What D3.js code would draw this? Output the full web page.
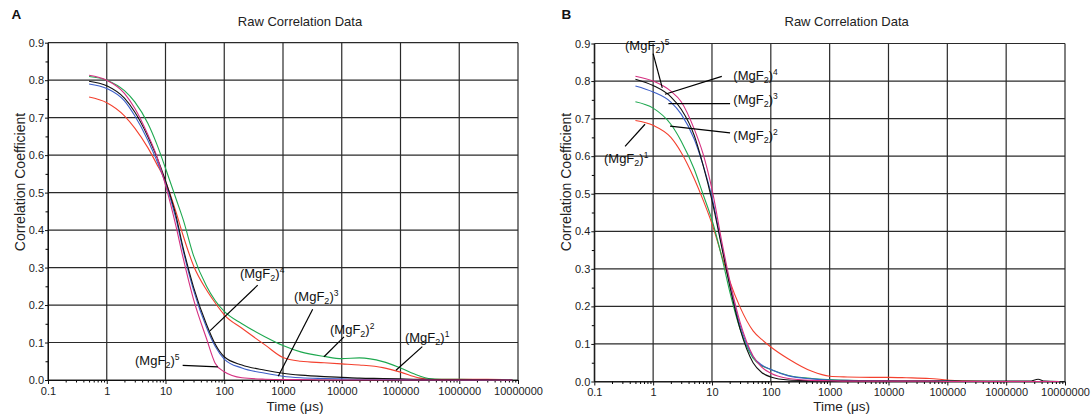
<!DOCTYPE html>
<html>
<head>
<meta charset="utf-8">
<script src="https://cdn.jsdelivr.net/npm/d3@7"></script>
<style>
    body { margin: 0; background: #fff; }
    svg { display: block; font-family: "Liberation Sans", Arial, sans-serif; }
</style>
</head>
<body>
<div id="wrapper"></div>
<script>
// tick values and labels
const xTickValues = [0.1, 1, 10, 100, 1000, 1e4, 1e5, 1e6, 1e7]
const xTickLabels = ['0.1', '1', '10', '100', '1000', '10000', '100000', '1000000', '10000000']
const yTickValues = [0, 0.1, 0.2, 0.3, 0.4, 0.5, 0.6, 0.7, 0.8, 0.9]
const yTickLabels = ['0.0', '0.1', '0.2', '0.3', '0.4', '0.5', '0.6', '0.7', '0.8', '0.9']

// panel A (time in microseconds)
const timesA = [0.5, 1, 2, 3, 5, 7, 10, 15, 20, 30, 50, 70, 100, 200, 500, 1e3, 2e3, 5e3, 1e4, 2e4, 5e4, 1e5, 2e5, 3e5, 5e5, 1e6, 3e6, 8e6]
const mgf1A = [0.755, 0.740, 0.705, 0.672, 0.620, 0.578, 0.530, 0.450, 0.385, 0.305, 0.240, 0.206, 0.174, 0.138, 0.093, 0.060, 0.050, 0.046, 0.043, 0.040, 0.033, 0.021, 0.006, 0.002, 0.002, 0.002, 0.002, 0.001]
const mgf2A = [0.810, 0.800, 0.772, 0.742, 0.685, 0.632, 0.565, 0.485, 0.428, 0.332, 0.250, 0.212, 0.183, 0.150, 0.115, 0.092, 0.075, 0.063, 0.057, 0.059, 0.049, 0.032, 0.012, 0.004, 0.002, 0.002, 0.001, 0.001]
const mgf3A = [0.790, 0.778, 0.745, 0.705, 0.640, 0.588, 0.525, 0.432, 0.345, 0.240, 0.140, 0.090, 0.056, 0.032, 0.018, 0.010, 0.006, 0.004, 0.003, 0.002, 0.002, 0.001, 0.001, 0.001, 0.001, 0.000, 0.000, 0.000]
const mgf4A = [0.797, 0.785, 0.752, 0.715, 0.650, 0.598, 0.532, 0.440, 0.352, 0.248, 0.148, 0.096, 0.062, 0.040, 0.026, 0.018, 0.013, 0.009, 0.007, 0.005, 0.004, 0.003, 0.002, 0.002, 0.001, 0.001, 0.001, 0.000]
const mgf5A = [0.813, 0.800, 0.765, 0.725, 0.655, 0.600, 0.520, 0.412, 0.325, 0.215, 0.110, 0.045, 0.022, 0.006, 0.002, 0.001, 0.001, 0.000, 0.000, 0.000, 0.000, 0.000, 0.000, 0.000, 0.000, 0.000, 0.000, 0.000]

// panel B
const timesB = [0.5, 1, 2, 3, 5, 7, 10, 15, 20, 30, 50, 70, 100, 200, 500, 1e3, 2e3, 5e3, 1e4, 2e4, 5e4, 1e5, 2e5, 5e5, 1e6, 2.5e6, 3.5e6, 4.5e6, 8e6]
const mgf1B = [0.695, 0.682, 0.650, 0.610, 0.540, 0.485, 0.420, 0.330, 0.268, 0.198, 0.135, 0.112, 0.092, 0.060, 0.027, 0.014, 0.012, 0.011, 0.011, 0.010, 0.008, 0.004, 0.001, 0.000, 0.000, 0.000, 0.000, 0.000, 0.000]
const mgf2B = [0.745, 0.728, 0.685, 0.640, 0.565, 0.500, 0.430, 0.325, 0.240, 0.140, 0.062, 0.042, 0.032, 0.016, 0.008, 0.005, 0.003, 0.002, 0.002, 0.001, 0.001, 0.001, 0.000, 0.000, 0.000, 0.000, 0.000, 0.000, 0.000]
const mgf3B = [0.787, 0.771, 0.744, 0.712, 0.645, 0.578, 0.490, 0.355, 0.262, 0.150, 0.066, 0.044, 0.032, 0.015, 0.007, 0.004, 0.003, 0.002, 0.002, 0.001, 0.001, 0.001, 0.000, 0.000, 0.000, 0.000, 0.000, 0.000, 0.000]
const mgf4B = [0.805, 0.788, 0.758, 0.725, 0.655, 0.578, 0.482, 0.350, 0.255, 0.140, 0.050, 0.024, 0.012, 0.004, 0.002, 0.001, 0.001, 0.001, 0.001, 0.001, 0.001, 0.001, 0.001, 0.001, 0.001, 0.001, 0.006, 0.001, 0.000]
const mgf5B = [0.813, 0.800, 0.773, 0.745, 0.672, 0.608, 0.512, 0.365, 0.270, 0.158, 0.068, 0.038, 0.022, 0.008, 0.003, 0.002, 0.001, 0.001, 0.001, 0.001, 0.001, 0.000, 0.000, 0.000, 0.000, 0.000, 0.000, 0.000, 0.000]

// annotations: label anchor, leader start, leader end (time, coefficient)
const annotationsA = [
    { n: '4', label: [185, 0.272], from: [371, 0.253], to: [57, 0.131] },
    { n: '3', label: [1540, 0.211], from: [3200, 0.189], to: [830, 0.010] },
    { n: '2', label: [6310, 0.123], from: [10900, 0.115], to: [4990, 0.062] },
    { n: '1', label: [119000, 0.101], from: [235000, 0.089], to: [83800, 0.026] },
    { n: '5', label: [3.03, 0.040], from: [19.6, 0.039], to: [78, 0.035] }
]
const annotationsB = [
    { n: '5', label: [0.333, 0.882], from: [1.0, 0.873], to: [1.43, 0.782] },
    { n: '4', label: [23.1, 0.802], from: [14.7, 0.8125], to: [1.59, 0.765] },
    { n: '3', label: [23.1, 0.738], from: [20.3, 0.740], to: [1.82, 0.740] },
    { n: '2', label: [23.1, 0.644], from: [20.3, 0.662], to: [1.94, 0.680] },
    { n: '1', label: [0.146, 0.582], from: [0.333, 0.626], to: [0.728, 0.685] }
]

const colors = ['#f4402e', '#1ea84f', '#3c5ec8', '#111111', '#d52f80']

function mgfLabel(text, n) {
    text.append('tspan').text('(MgF')
    text.append('tspan').attr('font-size', 9).attr('dy', 3).text('2')
    text.append('tspan').attr('dy', -3).text(')')
    text.append('tspan').attr('font-size', 8.5).attr('dy', -5).text(n)
}

function renderPanel(svg, p) {
    const xScale = d3.scaleLog().domain([0.1, 1e7]).range([p.left, p.right])
    const yScale = d3.scaleLinear().domain([0, 0.9]).range([p.bottom, p.top])
    const bounds = svg.append('g')

    // grid
    bounds.append('g').selectAll('line').data(xTickValues).join('line')
        .attr('x1', d => xScale(d)).attr('x2', d => xScale(d))
        .attr('y1', p.top).attr('y2', p.bottom)
        .attr('stroke', '#2a2a2a').attr('stroke-width', 1.2)
    bounds.append('g').selectAll('line').data(yTickValues).join('line')
        .attr('x1', p.left).attr('x2', p.right)
        .attr('y1', d => yScale(d)).attr('y2', d => yScale(d))
        .attr('stroke', '#2a2a2a').attr('stroke-width', 1.2)

    // minor ticks
    const xMinor = xTickValues.slice(0, -1).flatMap(d => d3.range(2, 10).map(k => d * k))
    const yMinor = yTickValues.slice(0, -1).map(d => d + 0.05)
    bounds.append('g').attr('transform', `translate(0,${p.bottom})`)
        .call(d3.axisBottom(xScale).tickValues(xMinor).tickSize(2.5).tickFormat(''))
        .call(g => g.select('.domain').remove())
    bounds.append('g').attr('transform', `translate(${p.left},0)`)
        .call(d3.axisLeft(yScale).tickValues(yMinor).tickSize(2.5).tickFormat(''))
        .call(g => g.select('.domain').remove())

    // axes
    const xAxis = bounds.append('g').attr('transform', `translate(0,${p.bottom})`)
        .call(d3.axisBottom(xScale).tickValues(xTickValues).tickSize(4).tickSizeOuter(0).tickPadding(3)
            .tickFormat((d, i) => xTickLabels[i]))
    const yAxis = bounds.append('g').attr('transform', `translate(${p.left},0)`)
        .call(d3.axisLeft(yScale).tickValues(yTickValues).tickSize(3).tickSizeOuter(0).tickPadding(1)
            .tickFormat((d, i) => yTickLabels[i]))
    for (const ax of [xAxis, yAxis]) {
        ax.attr('font-family', null).attr('font-size', null)
        ax.selectAll('text').attr('font-size', 11).attr('fill', '#222')
        ax.selectAll('line, path').attr('stroke', '#111')
    }

    // curves
    const lineGenerator = d3.line()
        .x((d, i) => xScale(p.times[i]))
        .y(d => yScale(d))
        .curve(d3.curveMonotoneX)
    p.series.forEach((values, i) => {
        bounds.append('path')
            .attr('d', lineGenerator(values))
            .attr('fill', 'none')
            .attr('stroke', colors[i])
            .attr('stroke-width', 1.1)
    })

    // annotations
    const ann = bounds.append('g')
    p.annotations.forEach(a => {
        ann.append('line')
            .attr('x1', xScale(a.from[0])).attr('y1', yScale(a.from[1]))
            .attr('x2', xScale(a.to[0])).attr('y2', yScale(a.to[1]))
            .attr('stroke', '#000').attr('stroke-width', 1.2)
        ann.append('text')
            .attr('x', xScale(a.label[0])).attr('y', yScale(a.label[1]))
            .attr('font-size', 13).attr('fill', '#111')
            .call(mgfLabel, a.n)
    })

    // titles
    const cx = (p.left + p.right) / 2
    svg.append('text').attr('x', cx + 17).attr('y', 26)
        .attr('text-anchor', 'middle').attr('font-size', 13).attr('fill', '#222')
        .text('Raw Correlation Data')
    svg.append('text').attr('x', cx + 12).attr('y', 410.5)
        .attr('text-anchor', 'middle').attr('font-size', 13.5).attr('fill', '#222')
        .text('Time (μs)')
    svg.append('text')
        .attr('transform', `translate(${p.left - 23},182) rotate(-90)`)
        .attr('text-anchor', 'middle').attr('font-size', 14).attr('fill', '#222')
        .text('Correlation Coefficient')
    svg.append('text').attr('x', p.letterX).attr('y', 18.5)
        .attr('font-size', 13.5).attr('font-weight', 'bold').attr('fill', '#111')
        .text(p.name)
}

const wrapper = d3.select('#wrapper')
    .append('svg')
    .attr('width', 1092)
    .attr('height', 418)

renderPanel(wrapper, {
    name: 'A', letterX: 11.5, left: 48, right: 518, top: 42.7, bottom: 380,
    times: timesA, series: [mgf1A, mgf2A, mgf3A, mgf4A, mgf5A], annotations: annotationsA
})
renderPanel(wrapper, {
    name: 'B', letterX: 561.5, left: 594.3, right: 1065, top: 43.5, bottom: 381.5,
    times: timesB, series: [mgf1B, mgf2B, mgf3B, mgf4B, mgf5B], annotations: annotationsB
})
</script>
</body>
</html>
